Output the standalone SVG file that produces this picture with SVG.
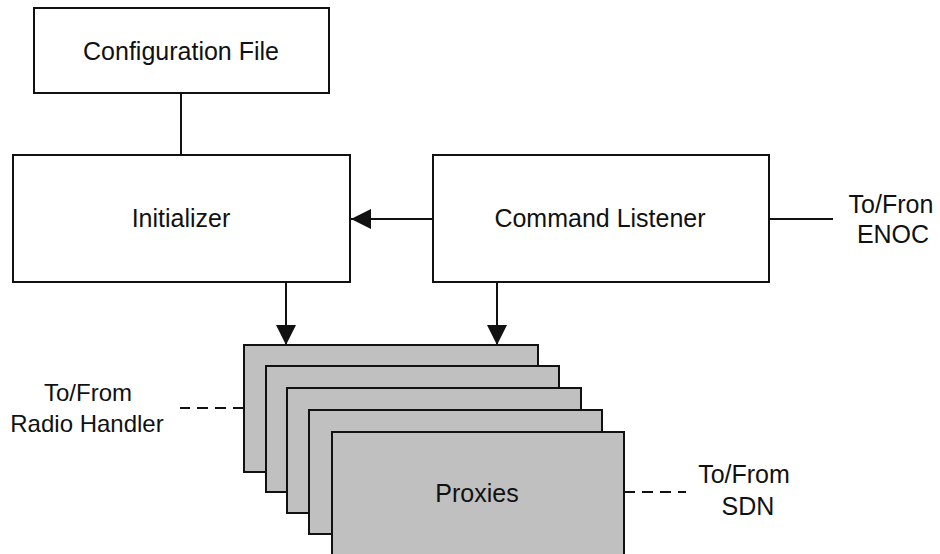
<svg xmlns="http://www.w3.org/2000/svg" width="940" height="554" viewBox="0 0 940 554">
  <style>
    .box { fill: #ffffff; stroke: #111111; stroke-width: 2; }
    .proxy { fill: #c0c0c0; stroke: #111111; stroke-width: 2; }
    .wire { fill: none; stroke: #111111; stroke-width: 2; }
    .dash { fill: none; stroke: #111111; stroke-width: 2; stroke-dasharray: 11 7; }
    text { font-family: "Liberation Sans", Arial, sans-serif; font-size: 25px; fill: #111111; text-anchor: middle; }
    .small { font-size: 24px; }
  </style>
  <defs>
    <marker id="head" viewBox="0 0 20 20" refX="20" refY="10" markerWidth="20" markerHeight="20" markerUnits="userSpaceOnUse" orient="auto">
      <path d="M0,0 L20,10 L0,20 Z" fill="#111111"/>
    </marker>
  </defs>

  <g id="connectors">
    <line class="wire" x1="181" y1="93" x2="181" y2="155"/>
    <line class="wire" x1="433" y1="219" x2="351" y2="219" marker-end="url(#head)"/>
    <line class="wire" x1="769" y1="219" x2="833" y2="219"/>
    <line class="wire" x1="286" y1="282" x2="286" y2="345" marker-end="url(#head)"/>
    <line class="wire" x1="497" y1="282" x2="497" y2="345" marker-end="url(#head)"/>
    <path class="dash" d="M244,408 H180"/>
    <path class="dash" d="M624,492 H686"/>
  </g>

  <g id="config-file">
    <rect class="box" x="34" y="8" width="295" height="85"/>
    <text x="181" y="60">Configuration File</text>
  </g>

  <g id="initializer">
    <rect class="box" x="13" y="155" width="337" height="127"/>
    <text x="181" y="227">Initializer</text>
  </g>

  <g id="command-listener">
    <rect class="box" x="433" y="155" width="336" height="127"/>
    <text x="600" y="227">Command Listener</text>
  </g>

  <g id="proxies">
    <rect class="proxy" x="244" y="345" width="294" height="127"/>
    <rect class="proxy" x="266" y="366" width="293" height="126"/>
    <rect class="proxy" x="287" y="388" width="294" height="125"/>
    <rect class="proxy" x="309" y="410" width="293" height="124"/>
    <rect class="proxy" x="332" y="432" width="292" height="130"/>
    <text x="477" y="502">Proxies</text>
  </g>

  <g id="enoc-label">
    <text x="891" y="213">To/Fron</text>
    <text x="893" y="243">ENOC</text>
  </g>

  <g id="radio-label">
    <text class="small" x="88" y="401">To/From</text>
    <text class="small" x="87" y="432">Radio Handler</text>
  </g>

  <g id="sdn-label">
    <text x="744" y="483">To/From</text>
    <text x="748" y="515">SDN</text>
  </g>
</svg>
